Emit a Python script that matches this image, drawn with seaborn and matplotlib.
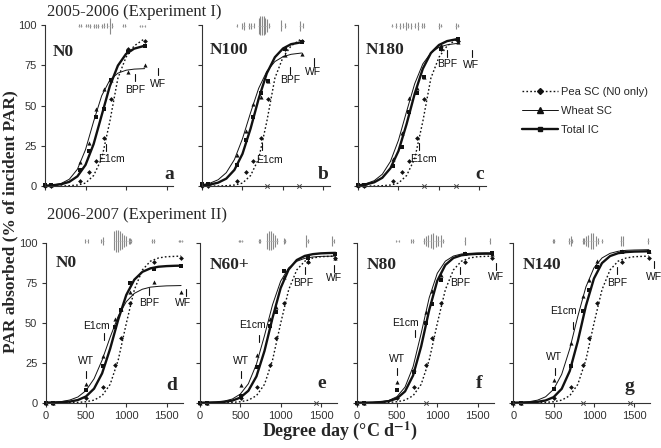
import numpy as np
import pandas as pd
import matplotlib
matplotlib.use('Agg')
import matplotlib.pyplot as plt
from matplotlib.lines import Line2D
import seaborn as sns

# ---- data ----
# measurement dates (degree days)
dd_exp1 = [0, 70, 430, 540, 625, 730, 820, 1020, 1230]
dd_exp2 = [0, 90, 505, 710, 865, 940, 1040, 1345, 1680]

# grids where the fitted curves were read
grid1 = [0, 100, 200, 300, 400, 500, 600, 700, 800, 900, 1000, 1100, 1230]
grid2 = [0, 100, 200, 300, 400, 500, 600, 700, 800, 900, 1000, 1100, 1200,
         1300, 1400, 1500, 1600, 1680]

# pea sole crop (same in every panel of an experiment)
pea1_pts = [0, 0, 3, 9, 15.5, 30, 54, 85, 90]
pea1_fit = [0, 0, 0, 0.2, 0.6, 1.8, 6.5, 17, 40, 67, 80, 87, 91.5]
pea2_pts = [0, 0, 3, 9.7, 23.6, 40.4, 62.8, 88.5, 91]
pea2_fit = [0, 0, 0, 0, 0.2, 0.6, 1.6, 4.4, 11.5, 26.8, 49.7, 70.9, 83.3,
            88.8, 90.8, 91.6, 91.8, 92]

# Experiment I panels
wheat_a_pts = [0.5, 0.5, 15, 27, 48, 60, 66, 71, 75]
total_a_pts = [0.5, 0.5, 10, 22, 43, 48, 66, 83, 87]
wheat_a_fit = [0.2, 0.6, 1.6, 4.2, 10.4, 22.6, 40.1, 56.1, 65.8, 70.1, 71.9, 72.6, 72.9]
total_a_fit = [0.2, 0.5, 1.1, 2.6, 6.0, 13.1, 26, 44, 62, 74.8, 82, 85.3, 87.1]

wheat_b_pts = [1, 1, 19, 34, 51, 55.5, 65, 81.4, 81.8]
total_b_pts = [1, 1, 13, 28.6, 43, 57.5, 65, 85, 89.6]
wheat_b_fit = [0.8, 1.8, 3.9, 8.3, 16.4, 29.4, 45.6, 60.7, 71.2, 77.3, 80.3, 81.8, 82.6]
total_b_fit = [0.4, 0.9, 2.1, 4.6, 10.0, 20.0, 35.7, 54.3, 70, 80, 85.4, 88.1, 89.3]

wheat_c_pts = [0.5, 0.5, 16.6, 32.7, 54.9, 61, 68, 87.6, 89.6]
total_c_pts = [0.5, 0.5, 12.4, 24, 46, 58, 68, 85, 91]
wheat_c_fit = [0.65, 1.5, 3.3, 7.3, 15.2, 28.5, 46.3, 63.5, 75.8, 82.7, 86.2, 87.7, 88.6]
total_c_fit = [0.4, 1.0, 2.3, 5.1, 11.0, 21.8, 38.5, 57.3, 72.8, 82.6, 87.6, 90.0, 91.3]

# Experiment II panels
wheat_d_pts = [0, 0, 11.7, 29.3, 52.3, 58.6, 69.6, 76, 69.2]
total_d_pts = [0, 0, 8, 22.9, 47.3, 58.4, 75, 83.7, 85.5]
wheat_d_fit = [0.15, 0.35, 0.76, 1.7, 3.6, 7.6, 15.0, 26.7, 41.1, 54.3, 63.4, 68.6,
               71.2, 72.5, 73.0, 73.3, 73.4, 73.5]
total_d_fit = [0.05, 0.13, 0.3, 0.7, 1.7, 3.9, 8.8, 18.4, 33.9, 52.1, 67.6, 77.2,
               82.1, 84.3, 85.3, 85.7, 85.9, 86]

wheat_e_pts = [0, 0, 11.1, 30, 52.7, 60, 79, 88.7, 91]
total_e_pts = [0, 0, 4.5, 22.4, 48, 57, 82.5, 90.8, 93.4]
wheat_e_fit = [0.07, 0.18, 0.42, 1.0, 2.3, 5.4, 11.9, 24.2, 42.1, 61.5, 76.2, 84.6,
               88.7, 90.6, 91.4, 91.8, 91.9, 92]
total_e_fit = [0.03, 0.09, 0.21, 0.53, 1.3, 3.2, 7.5, 16.5, 32.5, 53.3, 71.9, 83.6,
               89.5, 92.1, 93.2, 93.7, 93.9, 94]

wheat_f_pts = [0, 0, 13, 21, 57, 70, 80, 93.8, 93.4]
total_f_pts = [0, 0, 8.2, 19.3, 50, 62, 77, 93, 93.8]
wheat_f_fit = [0.03, 0.07, 0.2, 0.54, 1.45, 3.8, 9.8, 22.6, 43.5, 65.9, 81.2, 88.8,
               92.0, 93.3, 93.7, 93.9, 94, 94]
total_f_fit = [0.02, 0.05, 0.14, 0.38, 1.0, 2.7, 7.1, 17.1, 35.3, 58.2, 76.5, 86.4,
               90.8, 92.5, 93.1, 93.4, 93.5, 93.5]

wheat_g_pts = [0, 0, 14.4, 37.4, 66.9, 77, 88.7, 95.4, 95]
total_g_pts = [0, 0, 8.8, 23, 57.3, 71, 85, 94.5, 94.5]
wheat_g_fit = [0.12, 0.28, 0.67, 1.6, 3.7, 8.4, 17.8, 33.8, 54.2, 72.6, 84.6, 90.8,
               93.7, 95.0, 95.6, 95.8, 95.9, 96]
total_g_fit = [0.03, 0.08, 0.21, 0.55, 1.4, 3.5, 8.7, 19.9, 38.6, 60.7, 77.9, 87.6,
               92.0, 93.8, 94.5, 94.8, 94.9, 95]

# grey date-variability marks along the top of each panel (x, half height)
marks_x = {
    'a': [420, 450, 500, 530, 560, 600, 630, 660, 700, 730, 770, 800, 830, 960, 990, 1170, 1200, 1230],
    'b': [430, 500, 520, 580, 610, 640, 700, 720, 740, 760, 780, 800, 830, 980, 1030, 1210, 1245],
    'c': [420, 470, 520, 560, 590, 620, 660, 700, 740, 790, 820, 1000, 1030, 1210, 1240],
    'd': [490, 520, 690, 715, 850, 875, 900, 925, 950, 975, 1000, 1030, 1045, 1060, 1320, 1345, 1650, 1670, 1690],
    'e': [480, 500, 520, 730, 750, 830, 855, 880, 905, 930, 955, 1040, 1060, 1320, 1340, 1640, 1660],
    'f': [490, 520, 680, 700, 830, 860, 890, 920, 950, 980, 1010, 1040, 1070, 1340, 1650],
    'g': [490, 510, 690, 710, 730, 860, 880, 900, 930, 960, 990, 1020, 1050, 1100, 1330, 1355, 1670],
}
marks_h = {
    'a': [1, 1, 1, 1, 1.2, 1.2, 1.2, 1.2, 1.2, 1.5, 1.5, 5, 1.5, 1, 1, 0.8, 0.8, 0.8],
    'b': [1, 2, 2.5, 2, 2, 1.5, 5, 6, 6, 6, 5, 4, 1.5, 3.5, 1.5, 3, 1.5],
    'c': [1, 1.5, 2, 1.5, 2.5, 1.5, 2, 1.5, 2.5, 1.5, 1.5, 2, 1, 2, 1],
    'd': [1, 1, 1, 2.5, 6, 7, 7, 6, 5, 4, 3, 2, 2, 1.5, 1.5, 1, 0.7, 0.7, 0.7],
    'e': [0.7, 0.7, 0.7, 1.5, 1, 5, 6, 6, 5, 4, 2, 2, 1.5, 4, 1, 3, 1],
    'f': [0.7, 0.7, 1.5, 1, 2, 3, 4, 4.5, 5, 4, 3, 4, 1.5, 2.5, 2],
    'g': [1, 1, 2, 3, 1, 2, 2, 3, 4, 5, 5, 3, 2, 1, 3, 3, 2],
}
# small crossed marks on the x axis
zero_marks = {'a': [], 'b': [806, 1202], 'c': [810, 1215], 'd': [],
              'e': [1445], 'f': [866], 'g': [866, 1449]}

# growth stage annotations: label, x, marker y, text x, text y
stages = {
    'a': [('E1cm', 751, 24, 820, 17), ('BPF', 1108, 67.5, 1108, 59.6), ('WF', 1396, 71, 1392, 63.4)],
    'b': [('E1cm', 745, 24.4, 835, 16), ('BPF', 1088, 72, 1085, 65.8), ('WF', 1387, 77, 1370, 71)],
    'c': [('E1cm', 757, 24.4, 810, 16.6), ('BPF', 1104, 82.4, 1104, 76), ('WF', 1404, 82.4, 1390, 75)],
    'd': [('WT', 499, 17.4, 499, 26.4), ('E1cm', 722, 41.4, 632, 48), ('BPF', 1280, 69.6, 1280, 62.3), ('WF', 1735, 69, 1700, 62.3)],
    'e': [('WT', 513, 17.4, 513, 26.4), ('E1cm', 731, 40.4, 650, 49), ('BPF', 1305, 83.2, 1280, 75.3), ('WF', 1663, 84.3, 1663, 78)],
    'f': [('WT', 505, 19.4, 505, 27.7), ('E1cm', 727, 43.5, 610, 50.2), ('BPF', 1281, 82.8, 1290, 75.3), ('WF', 1731, 85.3, 1731, 79)],
    'g': [('WT', 512, 19.4, 500, 28.5), ('E1cm', 737, 48.7, 625, 57.5), ('BPF', 1292, 82.8, 1292, 75.3), ('WF', 1750, 86.4, 1750, 79)],
}

panels = [
    # key, treatment, exp, wheat pts, total pts, wheat fit, total fit, axes rect
    ('a', 'N0', 1, wheat_a_pts, total_a_pts, wheat_a_fit, total_a_fit, [0.0681, 0.5848, 0.1936, 0.3594]),
    ('b', 'N100', 1, wheat_b_pts, total_b_pts, wheat_b_fit, total_b_fit, [0.3056, 0.5848, 0.1936, 0.3594]),
    ('c', 'N180', 1, wheat_c_pts, total_c_pts, wheat_c_fit, total_c_fit, [0.5416, 0.5848, 0.1936, 0.3594]),
    ('d', 'N0', 2, wheat_d_pts, total_d_pts, wheat_d_fit, total_d_fit, [0.0691, 0.1011, 0.2073, 0.3558]),
    ('e', 'N60+', 2, wheat_e_pts, total_e_pts, wheat_e_fit, total_e_fit, [0.3026, 0.1011, 0.2073, 0.3558]),
    ('f', 'N80', 2, wheat_f_pts, total_f_pts, wheat_f_fit, total_f_fit, [0.5396, 0.1011, 0.2073, 0.3558]),
    ('g', 'N140', 2, wheat_g_pts, total_g_pts, wheat_g_fit, total_g_fit, [0.7766, 0.1011, 0.2073, 0.3558]),
]
n_pos = {'a': (0.06, 0.83), 'b': (0.06, 0.845), 'c': (0.06, 0.845),
         'd': (0.07, 0.876), 'e': (0.07, 0.864), 'f': (0.07, 0.864), 'g': (0.07, 0.864)}
l_pos = {'a': (0.97, 0.07), 'b': (0.945, 0.07), 'c': (0.95, 0.07),
         'd': (0.92, 0.11), 'e': (0.89, 0.12), 'f': (0.89, 0.12), 'g': (0.85, 0.10)}

sns.set_style('ticks')
plt.rcParams['font.family'] = ['Liberation Sans', 'DejaVu Sans']
plt.rcParams['mathtext.fontset'] = 'stix'
SERIF = 'Liberation Serif'
INK = '#111111'

fig = plt.figure(figsize=(6.61, 4.48), dpi=100)

for key, treat, exp, w_pts, t_pts, w_fit, t_fit, rect in panels:
    ax = fig.add_axes(rect)
    if exp == 1:
        dd, grid, p_pts, p_fit, xmax = dd_exp1, grid1, pea1_pts, pea1_fit, 1580
    else:
        dd, grid, p_pts, p_fit, xmax = dd_exp2, grid2, pea2_pts, pea2_fit, 1700

    # fitted curves
    sns.lineplot(x=grid, y=p_fit, ax=ax, color=INK, lw=1.0, linestyle=(0, (1.2, 1.6)), clip_on=False)
    sns.lineplot(x=grid, y=w_fit, ax=ax, color=INK, lw=0.7, clip_on=False)
    sns.lineplot(x=grid, y=t_fit, ax=ax, color=INK, lw=1.7, clip_on=False)

    # observed points
    sns.scatterplot(x=dd, y=p_pts, ax=ax, marker='D', s=6, color=INK, edgecolor=INK, linewidth=0, clip_on=False)
    sns.scatterplot(x=dd, y=w_pts, ax=ax, marker='^', s=9, color=INK, edgecolor=INK, linewidth=0, clip_on=False)
    sns.scatterplot(x=dd, y=t_pts, ax=ax, marker='s', s=6, color=INK, edgecolor=INK, linewidth=0, clip_on=False)

    # grey marks above the curves
    yc = 99.5 if exp == 1 else 101.5
    mx = np.array(marks_x[key])
    mh = np.array(marks_h[key])
    ax.vlines(mx, yc - mh, yc + mh, color='#8a8a8a', lw=0.8, clip_on=False)
    ax.hlines([yc] * len(mx), mx - 8, mx + 8, color='#b0b0b0', lw=0.5, clip_on=False)

    if zero_marks[key]:
        ax.scatter(zero_marks[key], [0] * len(zero_marks[key]), marker='x', s=10,
                   color='#444444', linewidths=0.7, clip_on=False, zorder=5)

    # growth stages
    for lab, sx, sy, tx, ty in stages[key]:
        ax.plot([sx, sx], [sy - 2.2, sy + 2.2], color=INK, lw=0.8, clip_on=False)
        ax.text(tx, ty, lab, fontsize=7.5, ha='center', va='center', color=INK, clip_on=False)

    ax.text(*n_pos[key], treat, transform=ax.transAxes, fontsize=12.5, fontweight='bold',
            family=SERIF, ha='left', va='center')
    ax.text(*l_pos[key], key, transform=ax.transAxes, fontsize=14, fontweight='bold',
            family=SERIF, ha='center', va='center')

    ax.set_xlim(0, xmax)
    ax.set_ylim(0, 100)
    ax.set_xticks([0, 500, 1000, 1500])
    ax.set_yticks([0, 25, 50, 75, 100])
    ax.set_xlabel('')
    ax.set_ylabel('')
    ax.tick_params(direction='out', length=3, width=0.8, labelsize=8, pad=3, colors='#333333')
    if exp == 1:
        ax.set_xticklabels([])
    if key not in ('a', 'd'):
        ax.set_yticklabels([])
    for side in ('top', 'right'):
        ax.spines[side].set_visible(False)
    for side in ('left', 'bottom'):
        ax.spines[side].set_linewidth(0.8)
        ax.spines[side].set_color('#333333')
    if ax.get_legend():
        ax.get_legend().remove()

# legend in the empty slot of the first row
handles = [
    Line2D([], [], color=INK, lw=1.0, linestyle=(0, (1.2, 1.6)), marker='D', markersize=3),
    Line2D([], [], color=INK, lw=0.7, marker='^', markersize=4),
    Line2D([], [], color=INK, lw=1.7, marker='s', markersize=3),
]
fig.legend(handles, ['Pea SC (N0 only)', 'Wheat SC', 'Total IC'], loc='center left',
           bbox_to_anchor=(0.775, 0.752), frameon=False, fontsize=8, handlelength=3.2,
           labelspacing=0.8, handletextpad=0.3)

fig.text(47 / 661, 1 - 12 / 448, '2005-2006 (Experiment I)', family=SERIF, fontsize=12,
         ha='left', va='center')
fig.text(47 / 661, 1 - 215 / 448, '2006-2007 (Experiment II)', family=SERIF, fontsize=12,
         ha='left', va='center')
fig.text(10 / 661, 1 - 222 / 448, 'PAR absorbed (% of incident PAR)', family=SERIF,
         fontsize=12.5, fontweight='bold', rotation=90, ha='center', va='center')
fig.text(340 / 661, 1 - 431 / 448, r'Degree day (°C d$^{\mathbf{-1}}$)', family=SERIF,
         fontsize=13, fontweight='bold', ha='center', va='center')

fig.savefig('out.png', dpi=100)
